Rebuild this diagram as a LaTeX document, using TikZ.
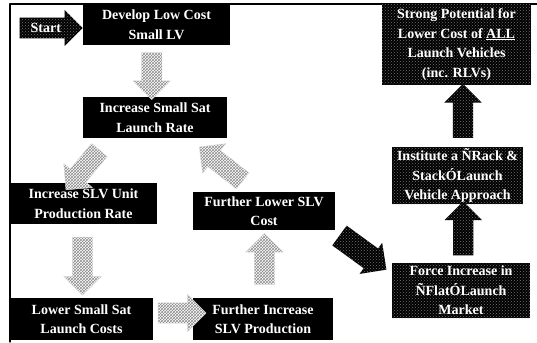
\documentclass[tikz,border=0pt]{standalone}
\usepackage{fontspec}
\setmainfont{Liberation Serif}
\usetikzlibrary{shapes.arrows,patterns,calc}

\begin{document}
\begin{tikzpicture}[x=1pt, y=-1pt, line join=round, line cap=round,
	txt/.style={text=white, font=\fontsize{14}{19.5}\selectfont\bfseries, align=center, inner sep=0pt},
	box/.style={txt, fill=black},
	rough/.style={txt, preaction={fill=black}, pattern=crosshatch dots, pattern color=black!55},
	lightarr/.style={single arrow, preaction={fill=white}, pattern=crosshatch, pattern color=black!45, draw=black!15, single arrow head extend=8.5, single arrow head indent=0, inner xsep=0pt, inner ysep=10pt},
	darkarr/.style={single arrow, preaction={fill=black}, pattern=crosshatch dots, pattern color=black!55, single arrow head extend=8.5, single arrow head indent=0, inner xsep=0pt, inner ysep=10pt}]
	\useasboundingbox (0,0) rectangle (537,342);
	\draw[line width=1.2pt] (10,342) -- (10,4) -- (537,4);
	\node[box, minimum width=147, minimum height=40] (dev) at (156.5,25) {Develop Low Cost\\Small LV};
	\node[box, minimum width=144, minimum height=41] (inc) at (155,117.5) {Increase Small Sat\\Launch Rate};
	\node[box, minimum width=147, minimum height=41] (unit) at (83.5,203.5) {Increase SLV Unit\\Production Rate};
	\node[box, minimum width=142, minimum height=38] (fl) at (264,211) {Further Lower SLV\\Cost};
	\node[box, minimum width=143, minimum height=42] (low) at (81.5,319) {Lower Small Sat\\Launch Costs};
	\node[box, minimum width=140, minimum height=42] (fi) at (263,319) {Further Increase\\SLV Production};
	\node[rough, minimum width=138, minimum height=55] (force) at (461,290.5) {Force Increase in\\ÑFlatÓLaunch\\Market};
	\node[rough, minimum width=131, minimum height=57] (inst) at (457.5,175.5) {Institute a ÑRack \&\\StackÓLaunch\\Vehicle Approach};
	\node[rough, minimum width=149, minimum height=81] (strong) at (456.5,44.5) {Strong Potential for\\Lower Cost of \underline{ALL}\\Launch Vehicles\\(inc. RLVs)};
	\node[rough, single arrow, minimum height=63, single arrow head extend=7.5, single arrow head indent=0, inner xsep=4pt, inner ysep=5.5pt, anchor=tip] (start) at ($(dev.west)+(0,3)$) {Start};
	\node[lightarr, minimum height=47, rotate=-90] (a1) at ($(dev.south)!0.5!(inc.north)+(-4,0)$) {};
	\node[lightarr, minimum height=52, rotate=230] (a2) at (86,166) {};
	\node[lightarr, minimum height=55, rotate=142] (a3) at (225,167) {};
	\node[lightarr, minimum height=58, rotate=-90] (a4) at ($(unit.south)!0.5!(low.north)$) {};
	\node[lightarr, minimum height=48] (a5) at ($(low.east)!0.5!(fi.west)+(4,-6)$) {};
	\node[lightarr, minimum height=51, rotate=90] (a6) at ($(fi.north)!0.5!(fl.south)+(1,0)$) {};
	\node[darkarr, minimum height=58, single arrow head extend=7, inner ysep=12pt, rotate=-36] (a7) at (358,249) {};
	\node[darkarr, minimum height=54, rotate=90] (a8) at ($(force.north)!0.5!(inst.south)+(4,0)$) {};
	\node[darkarr, minimum height=54, rotate=90] (a9) at ($(inst.north)!0.5!(strong.south)+(6,0)$) {};
\end{tikzpicture}
\end{document}
